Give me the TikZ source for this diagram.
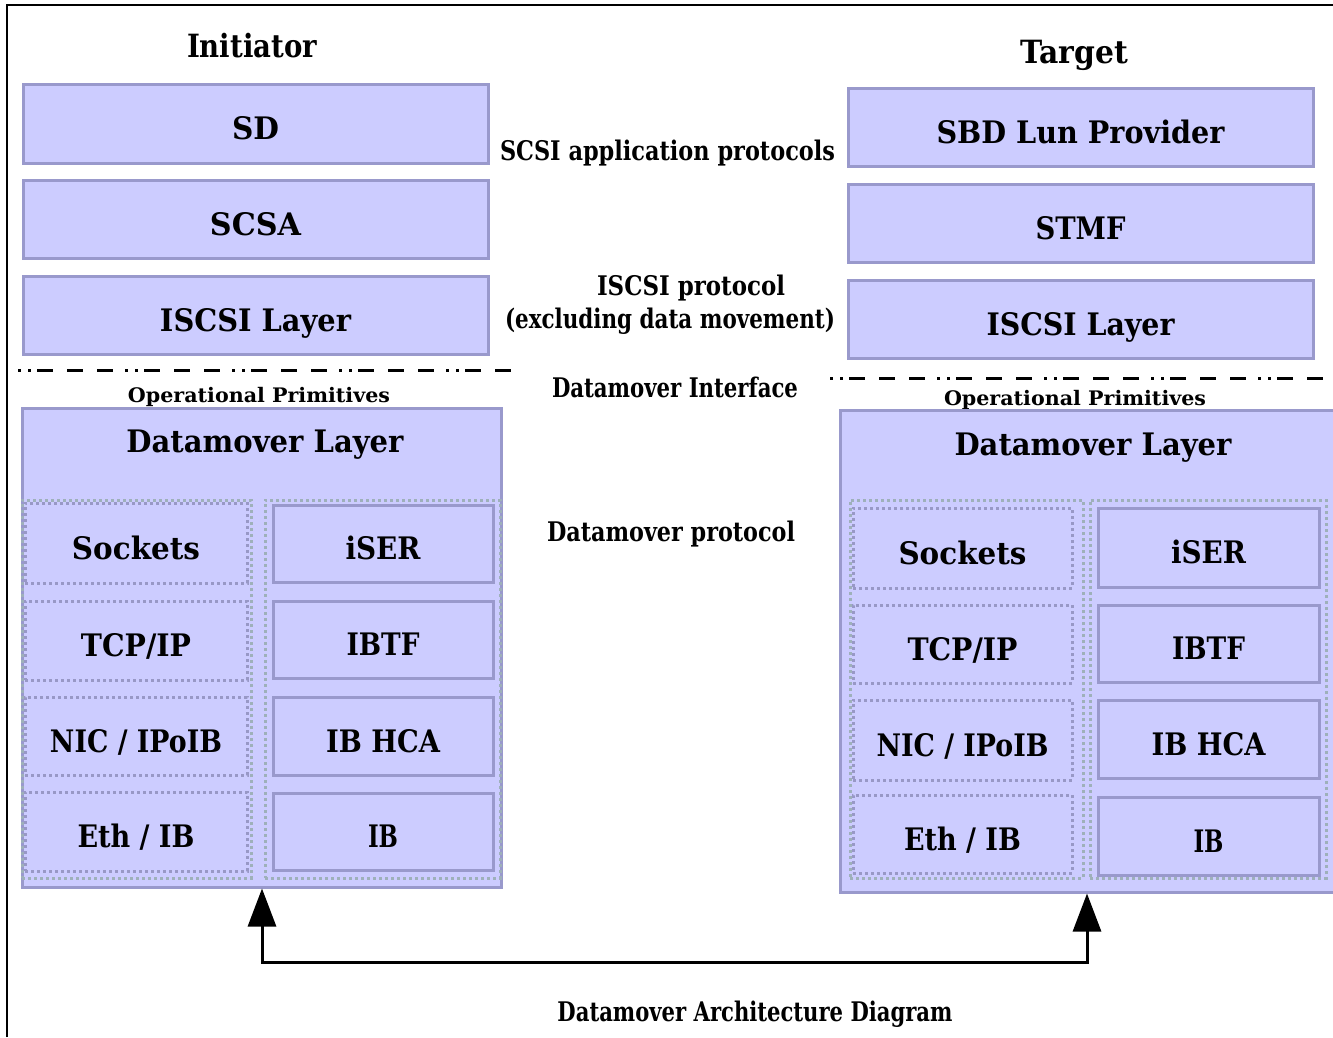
\documentclass[tikz,border=0pt]{standalone}
\usepackage{fontspec}
\setmainfont{DejaVu Serif}
\usetikzlibrary{arrows.meta}
\definecolor{boxfill}{HTML}{CCCCFF}
\definecolor{boxline}{HTML}{9999CC}
\definecolor{dotcol}{HTML}{9EB0BA}
\definecolor{dotin}{HTML}{9898C6}
\newcommand\fw[2]{\resizebox{#1pt}{\height}{#2}}
\begin{document}
\begin{tikzpicture}[x=1pt,y=-1pt,
  layer/.style={draw=boxline, fill=boxfill, line width=3pt, inner sep=0pt,
    text height=32pt, text depth=0pt, font=\fontsize{31}{36}\selectfont\bfseries},
  outerbox/.style={draw=boxline, fill=boxfill, line width=3pt, inner sep=0pt},
  colbox/.style={draw=dotcol, line width=3pt, dash pattern=on 3pt off 3pt, inner sep=0pt},
  dotbox/.style={draw=dotin, line width=3pt, dash pattern=on 3pt off 3pt, inner sep=0pt,
    text height=32pt, text depth=0pt, font=\fontsize{31}{36}\selectfont\bfseries},
  title/.style={anchor=base, inner sep=0pt, font=\fontsize{32}{38}\selectfont\bfseries},
  midtxt/.style={anchor=base, inner sep=0pt, font=\fontsize{27}{32}\selectfont\bfseries},
  optxt/.style={anchor=base, inner sep=0pt, font=\fontsize{20}{24}\selectfont\bfseries},
  dmtitle/.style={anchor=base, inner sep=0pt, font=\fontsize{31}{36}\selectfont\bfseries},
  sepline/.style={line width=3pt, dash pattern=on 3pt off 7pt on 3pt off 6pt on 16pt off 14pt on 16pt off 14pt on 16pt off 12pt},
  conn/.style={line width=3pt, {Triangle[length=38pt,width=28pt]}-{Triangle[length=38pt,width=28pt]}}
]
\useasboundingbox (0,0) rectangle (1333,1037);
\fill[white] (0,0) rectangle (1333,1037);
% frame
\draw[line width=2pt] (7,1037) -- (7,5) -- (1333,5);

% titles
\node[title] (tini) at (252,57) {\fw{130}{Initiator}};
\node[title] (ttgt) at (1074,63) {\fw{108}{Target}};

% upper left stack
\node[layer, minimum width=465, minimum height=79] (sd)   at (255.5,123.5) {\fw{47}{SD}};
\node[layer, minimum width=465, minimum height=78] (scsa) at (255.5,219) {\fw{91}{SCSA}};
\node[layer, minimum width=465, minimum height=78] (isl)  at (255.5,315) {\fw{191}{ISCSI Layer}};

% upper right stack
\node[layer, minimum width=465, minimum height=78] (sbd)  at (1080.5,127) {\fw{288}{SBD Lun Provider}};
\node[layer, minimum width=465, minimum height=78] (stmf) at (1080.5,223) {\fw{90}{STMF}};
\node[layer, minimum width=465, minimum height=78] (isr)  at (1080.5,319) {\fw{188}{ISCSI Layer}};

% middle texts
\node[midtxt] (mapp)  at (667.5,160) {\fw{335}{SCSI application protocols}};
\node[midtxt] (mprot) at (691,295) {\fw{188}{ISCSI protocol}};
\node[midtxt] (mexcl) at (670,328) {\fw{330}{(excluding data movement)}};
\node[midtxt] (mint)  at (675,397) {\fw{246}{Datamover Interface}};
\node[midtxt] (mdmp)  at (671,541) {\fw{248}{Datamover protocol}};

% separators
\draw[sepline] (18,370) -- (512,370);
\draw[sepline] (830,378) -- (1340,378);

\node[optxt] (opl) at (259,402) {\fw{262}{Operational Primitives}};
\node[optxt] (opr) at (1075,405) {\fw{262}{Operational Primitives}};

% left datamover layer
\node[outerbox, minimum width=479, minimum height=479] (dmL) at (261.5,647.5) {};
\node[dmtitle] (dmLt) at (265,452) {\fw{277}{Datamover Layer}};
\node[colbox, minimum width=229, minimum height=378] (colLa) at (136.5,689) {};
\node[colbox, minimum width=235, minimum height=378] (colLb) at (382.5,689) {};
\node[dotbox, minimum width=222, minimum height=80] (sockL) at (136,543) {\fw{128}{Sockets}};
\node[dotbox, minimum width=222, minimum height=79] (tcpL)  at (136,640.5) {\fw{110}{TCP/IP}};
\node[dotbox, minimum width=222, minimum height=78] (nicL)  at (136,736) {\fw{172}{NIC / IPoIB}};
\node[dotbox, minimum width=222, minimum height=79] (ethL)  at (136,831.5) {\fw{117}{Eth / IB}};
\node[layer, minimum width=220, minimum height=77] (iserL) at (383,543.5) {\fw{75}{iSER}};
\node[layer, minimum width=220, minimum height=77] (ibtfL) at (383,639.5) {\fw{73}{IBTF}};
\node[layer, minimum width=220, minimum height=78] (hcaL)  at (383,736) {\fw{114}{IB HCA}};
\node[layer, minimum width=220, minimum height=77] (ibL)   at (383,831.5) {\fw{30}{IB}};

% right datamover layer
\node[outerbox, minimum width=505, minimum height=482] (dmR) at (1092.5,651) {};
\node[dmtitle] (dmRt) at (1093,455) {\fw{277}{Datamover Layer}};
\node[colbox, minimum width=233, minimum height=378] (colRa) at (966.5,689) {};
\node[colbox, minimum width=236, minimum height=378] (colRb) at (1208,689) {};
\node[dotbox, minimum width=219, minimum height=80] (sockR) at (962.5,548) {\fw{128}{Sockets}};
\node[dotbox, minimum width=219, minimum height=78] (tcpR)  at (962.5,644) {\fw{110}{TCP/IP}};
\node[dotbox, minimum width=219, minimum height=80] (nicR)  at (962.5,740) {\fw{172}{NIC / IPoIB}};
\node[dotbox, minimum width=219, minimum height=78] (ethR)  at (962.5,834) {\fw{117}{Eth / IB}};
\node[layer, minimum width=221, minimum height=79] (iserR) at (1208.5,547.5) {\fw{75}{iSER}};
\node[layer, minimum width=221, minimum height=77] (ibtfR) at (1208.5,643.5) {\fw{73}{IBTF}};
\node[layer, minimum width=221, minimum height=78] (hcaR)  at (1208.5,739) {\fw{114}{IB HCA}};
\node[layer, minimum width=221, minimum height=78] (ibR)   at (1208.5,836) {\fw{30}{IB}};

% connector
\coordinate (aL) at (262,962);
\coordinate (aR) at (1087,962);
\draw[conn] (dmL.south -| aL) -- (aL) -- (aR) -- (dmR.south -| aR);

\node[midtxt] (cap) at (755,1021) {\fw{395}{Datamover Architecture Diagram}};
\end{tikzpicture}
\end{document}
